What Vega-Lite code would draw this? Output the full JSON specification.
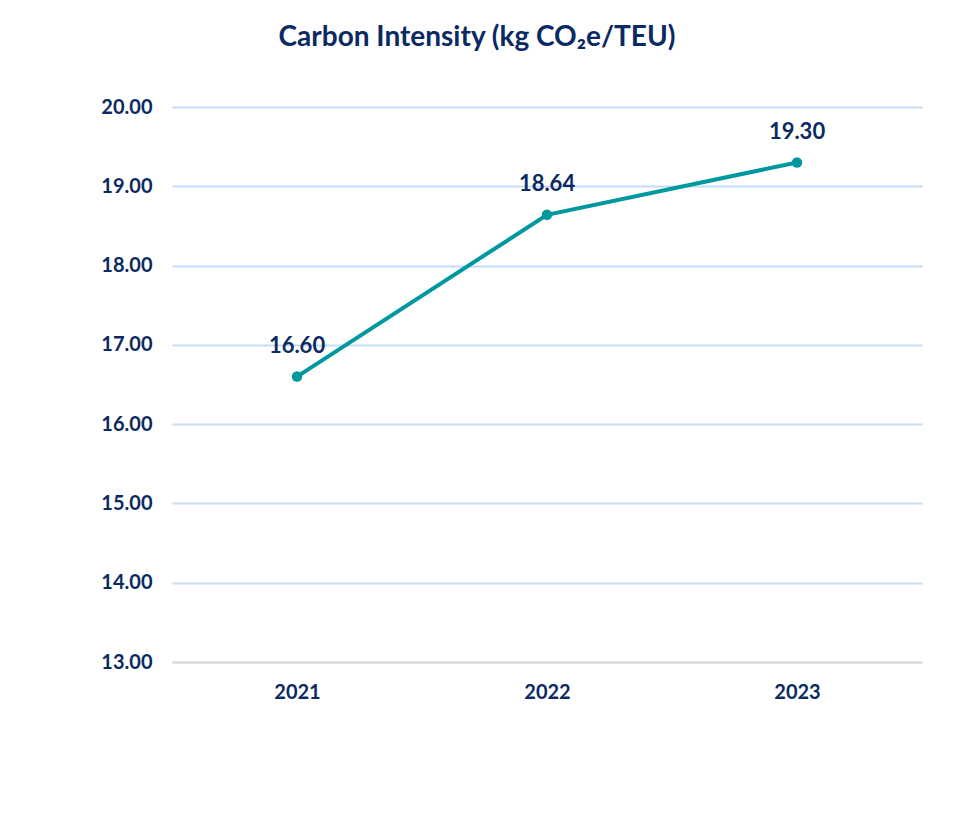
{
  "$schema": "https://vega.github.io/schema/vega-lite/v6.json",
  "width": 750,
  "height": 555,
  "autosize": {"type": "none"},
  "padding": {"left": 172, "top": 107, "right": 33, "bottom": 177},
  "background": "white",
  "title": {
    "text": "Carbon Intensity (kg CO₂e/TEU)",
    "font": "Lato",
    "fontSize": 28,
    "fontWeight": "bold",
    "color": "#0b2a63",
    "anchor": "middle",
    "dx": -70,
    "offset": 45
  },
  "data": {
    "values": [
      {"year": "2021", "value": 16.60},
      {"year": "2022", "value": 18.64},
      {"year": "2023", "value": 19.30}
    ]
  },
  "encoding": {
    "x": {
      "field": "year",
      "type": "ordinal",
      "scale": {"paddingInner": 0, "paddingOuter": 0, "align": 0.5},
      "axis": {
        "title": null,
        "labelAngle": 0,
        "ticks": false,
        "grid": false,
        "domainColor": "#d9d9d9",
        "domainWidth": 2,
        "labelPadding": 20,
        "labelFont": "Lato",
        "labelFontSize": 20,
        "labelFontWeight": "bold",
        "labelColor": "#0b2a63"
      }
    },
    "y": {
      "field": "value",
      "type": "quantitative",
      "scale": {"domain": [13, 20], "nice": false, "zero": false},
      "axis": {
        "title": null,
        "values": [13, 14, 15, 16, 17, 18, 19, 20],
        "format": ".2f",
        "domain": false,
        "ticks": false,
        "gridColor": "#c6dbf8",
        "gridWidth": 2,
        "labelPadding": 20,
        "labelFont": "Lato",
        "labelFontSize": 20,
        "labelFontWeight": "bold",
        "labelColor": "#0b2a63"
      }
    }
  },
  "layer": [
    {
      "mark": {"type": "line", "color": "#00989f", "strokeWidth": 4},
      "encoding": {}
    },
    {
      "mark": {"type": "point", "filled": true, "color": "#00989f", "size": 110, "opacity": 1},
      "encoding": {}
    },
    {
      "mark": {"type": "text", "dy": -31, "font": "Lato", "fontSize": 22, "fontWeight": "bold", "color": "#0b2a63"},
      "encoding": {
        "text": {"field": "value", "type": "quantitative", "format": ".2f"}
      }
    }
  ],
  "config": {
    "view": {"stroke": null}
  }
}
